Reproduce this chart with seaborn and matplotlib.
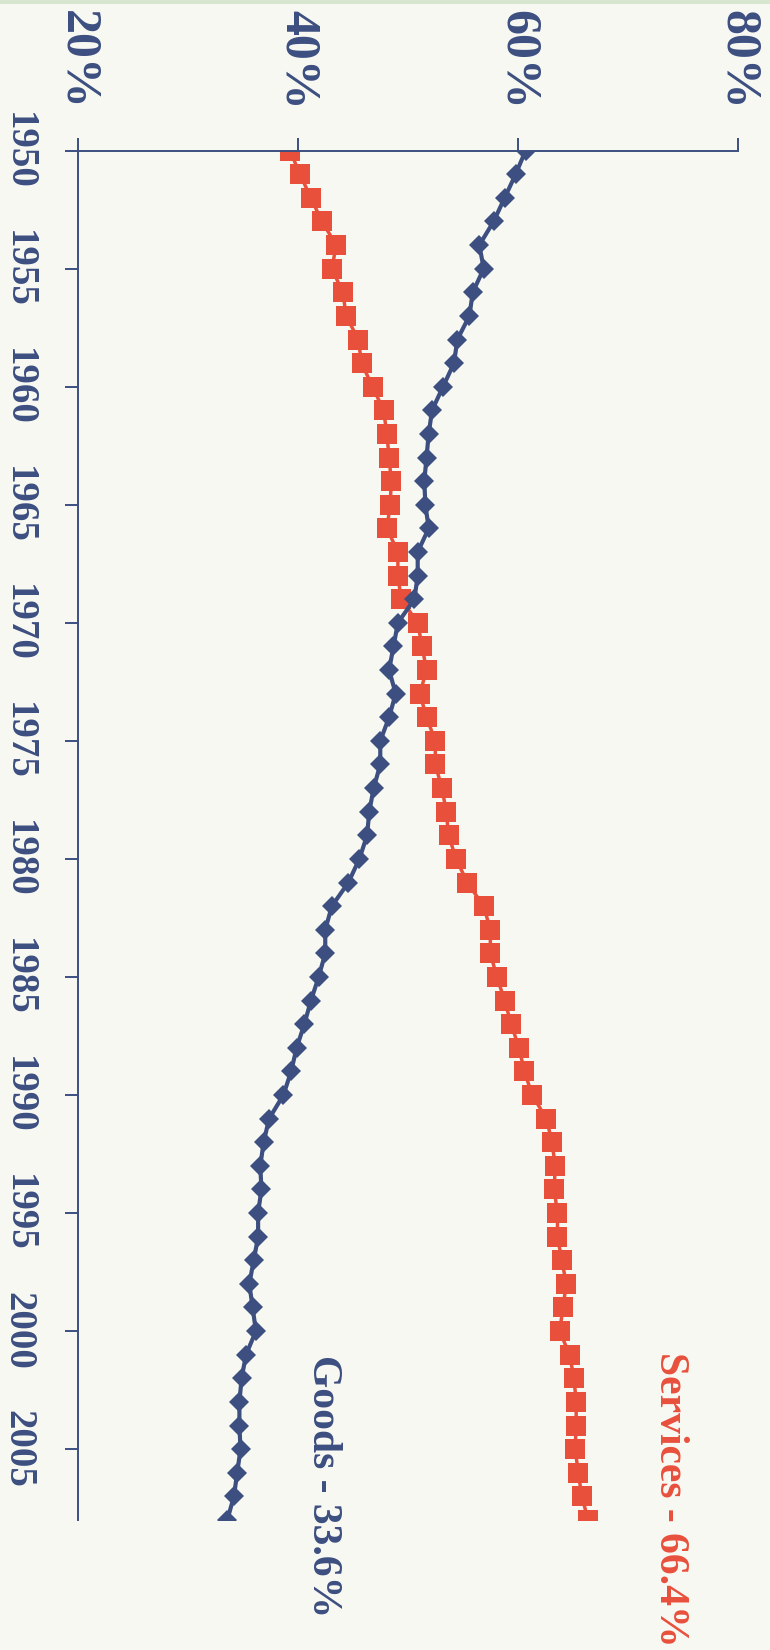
import matplotlib
matplotlib.use("Agg")
import matplotlib.pyplot as plt
from matplotlib.patches import Rectangle
import seaborn as sns
import pandas as pd

# Share of consumer spending, goods vs. services, 1950-2008
years = list(range(1950, 2009))
goods = [60.7, 59.8, 58.8, 57.8, 56.5, 56.9, 55.9, 55.6, 54.5, 54.2,
         53.2, 52.2, 51.9, 51.7, 51.5, 51.6, 51.9, 50.9, 50.9, 50.6,
         49.1, 48.7, 48.3, 48.9, 48.3, 47.5, 47.5, 46.9, 46.5, 46.3,
         45.6, 44.6, 43.1, 42.5, 42.5, 41.9, 41.2, 40.6, 39.9, 39.4,
         38.7, 37.4, 36.9, 36.6, 36.7, 36.4, 36.4, 36.0, 35.6, 35.9,
         36.2, 35.3, 34.9, 34.7, 34.7, 34.8, 34.5, 34.2, 33.6]
services = [39.3, 40.2, 41.2, 42.2, 43.5, 43.1, 44.1, 44.4, 45.5, 45.8,
            46.8, 47.8, 48.1, 48.3, 48.5, 48.4, 48.1, 49.1, 49.1, 49.4,
            50.9, 51.3, 51.7, 51.1, 51.7, 52.5, 52.5, 53.1, 53.5, 53.7,
            54.4, 55.4, 56.9, 57.5, 57.5, 58.1, 58.8, 59.4, 60.1, 60.6,
            61.3, 62.6, 63.1, 63.4, 63.3, 63.6, 63.6, 64.0, 64.4, 64.1,
            63.8, 64.7, 65.1, 65.3, 65.3, 65.2, 65.5, 65.8, 66.4]

pct_ticks = [20, 40, 60, 80]
pct_labels = ["20%", "40%", "60%", "80%"]
year_ticks = list(range(1950, 2006, 5))
goods_label = "Goods - 33.6%"
services_label = "Services - 66.4%"

NAVY = "#3C4F80"
RED = "#E8503C"
BG = "#F8F8F2"

df = pd.DataFrame({"year": years, "goods": goods, "services": services})

sns.set_style("white")
plt.rcParams["font.family"] = ["Liberation Serif", "DejaVu Serif"]
plt.rcParams["font.weight"] = "bold"

fig = plt.figure(figsize=(7.7, 16.5), dpi=100, facecolor=BG)
ax = fig.add_axes([0.1008, 0.0788, 0.8576, 0.8299])
ax.set_facecolor(BG)

# thin tinted band along the top edge
fig.patches.append(Rectangle((0, 0.9975), 1, 0.0025, transform=fig.transFigure,
                             facecolor="#D6E6CF", edgecolor="none"))

sns.lineplot(data=df, x="services", y="year", sort=False, orient="y", ax=ax,
             color=RED, linewidth=2.5, marker="s", markersize=14.5,
             markeredgewidth=0, markerfacecolor=RED)
sns.lineplot(data=df, x="goods", y="year", sort=False, orient="y", ax=ax,
             color=NAVY, linewidth=3, marker="D", markersize=10.5,
             markeredgewidth=0, markerfacecolor=NAVY)

ax.set_xlim(20, 80)
ax.set_ylim(2008, 1950)
ax.set_xlabel("")
ax.set_ylabel("")

for side in ("right", "bottom"):
    ax.spines[side].set_visible(False)
for side in ("left", "top"):
    ax.spines[side].set_color(NAVY)
    ax.spines[side].set_linewidth(1.4)

ax.xaxis.tick_top()
ax.set_xticks(pct_ticks)
ax.set_xticklabels(pct_labels)
ax.set_yticks(year_ticks)
ax.set_yticklabels([str(y) for y in year_ticks])

ax.tick_params(axis="x", which="both", direction="out", length=9.5, width=1.4,
               color=NAVY, pad=20, labelsize=36, labelcolor=NAVY,
               top=True, bottom=False)
ax.tick_params(axis="y", which="both", direction="out", length=9.5, width=1.4,
               color=NAVY, pad=20, labelsize=28, labelcolor=NAVY, left=True)

for lab in ax.get_xticklabels():
    lab.set_rotation(-90)
    lab.set_ha("center")
    lab.set_va("bottom")
    lab.set_fontweight("bold")
for lab in ax.get_yticklabels():
    lab.set_rotation(-90)
    lab.set_ha("right")
    lab.set_va("center")
    lab.set_fontweight("bold")

ax.text(73.8, 2000.9, services_label, rotation=-90, ha="center", va="top",
        fontsize=30, fontweight="bold", color=RED)
ax.text(42.3, 2001.0, goods_label, rotation=-90, ha="center", va="top",
        fontsize=30, fontweight="bold", color=NAVY)

ax.grid(False)
fig.savefig("out.png", dpi=100, facecolor=BG)
